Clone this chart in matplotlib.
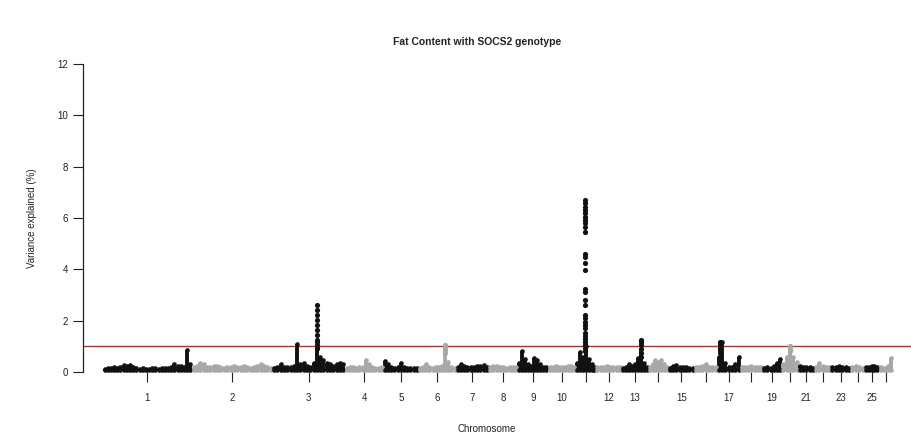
import matplotlib
matplotlib.use("Agg")
import matplotlib.pyplot as plt
import numpy as np

# Chromosome lengths (Mb)
chrom_len = [275, 249, 224, 119, 108, 117, 100, 90, 94, 86, 62, 79, 83,
             62, 80, 71, 72, 68, 60, 51, 50, 50, 62, 42, 45, 44]
chrom_labels = ["1", "2", "3", "4", "5", "6", "7", "8", "9", "10", "", "12", "13",
                "", "15", "", "17", "", "19", "", "21", "", "23", "", "25", ""]

# Variance explained (%) profile along each chromosome (evenly spaced SNP windows)
chr_profiles = [
    [0.12, 0.14, 0.15, 0.18, 0.15, 0.2, 0.27, 0.22, 0.28, 0.18, 0.15, 0.13, 0.14, 0.12,
     0.13, 0.15, 0.14, 0.13, 0.16, 0.15, 0.14, 0.18, 0.3, 0.22, 0.25, 0.2, 0.86, 0.3],
    [0.2, 0.25, 0.35, 0.3, 0.2, 0.18, 0.22, 0.25, 0.2, 0.15, 0.18, 0.2, 0.22, 0.18,
     0.2, 0.25, 0.2, 0.15, 0.18, 0.22, 0.3, 0.25, 0.2, 0.15],
    [0.15, 0.18, 0.3, 0.2, 0.18, 0.2, 0.25, 1.09, 0.3, 0.35, 0.25, 0.2, 0.35, 0.9,
     0.6, 0.45, 0.35, 0.3, 0.25, 0.3, 0.35, 0.3],
    [0.15, 0.2, 0.18, 0.15, 0.2, 0.18, 0.45, 0.3, 0.2, 0.15, 0.15, 0.18],
    [0.43, 0.3, 0.18, 0.15, 0.2, 0.35, 0.2, 0.15, 0.14, 0.15, 0.14],
    [0.15, 0.18, 0.3, 0.2, 0.15, 0.18, 0.2, 0.25, 1.05, 0.4, 0.2, 0.15],
    [0.2, 0.32, 0.25, 0.2, 0.18, 0.2, 0.22, 0.25, 0.28, 0.2],
    [0.2, 0.22, 0.25, 0.2, 0.18, 0.15, 0.2, 0.18, 0.2],
    [0.35, 0.82, 0.5, 0.3, 0.25, 0.55, 0.45, 0.3, 0.2, 0.18],
    [0.2, 0.18, 0.22, 0.2, 0.18, 0.2, 0.22, 0.25, 0.2],
    [0.35, 0.78, 0.6, 1.0, 0.5, 0.3, 0.2],
    [0.2, 0.18, 0.2, 0.22, 0.2, 0.18, 0.2, 0.18],
    [0.15, 0.2, 0.3, 0.25, 0.3, 0.55, 0.9, 0.35, 0.2],
    [0.2, 0.3, 0.45, 0.4, 0.45, 0.3, 0.2],
    [0.15, 0.25, 0.27, 0.2, 0.2, 0.18, 0.15, 0.15],
    [0.2, 0.2, 0.25, 0.3, 0.2, 0.18, 0.2],
    [0.6, 1.15, 0.35, 0.2, 0.2, 0.3, 0.6],
    [0.2, 0.18, 0.2, 0.22, 0.2, 0.18, 0.2],
    [0.15, 0.18, 0.15, 0.25, 0.35, 0.5],
    [0.3, 0.6, 1.0, 0.6, 0.4],
    [0.25, 0.2, 0.2, 0.18, 0.15],
    [0.2, 0.35, 0.25, 0.2, 0.18],
    [0.18, 0.2, 0.22, 0.2, 0.18, 0.15],
    [0.2, 0.25, 0.2, 0.15],
    [0.18, 0.2, 0.25, 0.22, 0.2],
    [0.2, 0.15, 0.25, 0.55],
]

# Individual significant SNPs in peaks: (chromosome, position fraction, values)
peak_chrom = [3, 11, 13, 17, 6, 20]
peak_frac = [0.61, 0.45, 0.72, 0.12, 0.71, 0.5]
peak_values = [
    [2.61, 2.42, 2.22, 2.03, 1.83, 1.64, 1.44, 1.25, 1.15, 1.05, 0.95],
    [6.70, 6.58, 6.43, 6.31, 6.19, 6.04, 5.92, 5.80, 5.65, 5.45, 4.60, 4.48, 4.25, 3.97,
     3.23, 3.12, 2.80, 2.61, 2.22, 2.10, 1.95, 1.83, 1.71, 1.52, 1.40, 1.29, 1.17, 1.05,
     0.93, 0.82],
    [1.25, 1.15, 1.05, 0.9, 0.75, 0.6],
    [1.15, 1.05, 0.95, 0.85, 0.75],
    [1.05, 0.95, 0.85, 0.75],
    [1.0, 0.9, 0.8],
]

threshold = 1.0

black = "#111111"
grey = "#a8a8a8"

plt.rcParams['font.family'] = ['Liberation Sans', 'DejaVu Sans']

fig = plt.figure(figsize=(9.12, 4.38), dpi=100)
ax = fig.add_axes([83 / 912, 66 / 438, 829 / 912, 308 / 438])

starts = np.concatenate([[0], np.cumsum(chrom_len)[:-1]])
centers = starts + np.array(chrom_len) / 2.0

for i, prof in enumerate(chr_profiles):
    n = len(prof)
    pos = starts[i] + (np.arange(n) + 0.5) / n * chrom_len[i]
    col = black if i % 2 == 0 else grey
    ax.vlines(pos, 0.04, prof, colors=col, linewidth=2.8, clip_on=False, zorder=2)
    ax.scatter(pos, prof, s=11, color=col, linewidths=0, clip_on=False, zorder=3)
    ax.scatter(pos, np.full(n, 0.06), s=11, color=col, linewidths=0, clip_on=False, zorder=3)

for c, f, vals in zip(peak_chrom, peak_frac, peak_values):
    idx = c - 1
    x = starts[idx] + f * chrom_len[idx]
    col = black if idx % 2 == 0 else grey
    ax.scatter(np.full(len(vals), x), vals, s=14, color=col, linewidths=0,
               clip_on=False, zorder=4)

ax.axhline(threshold, color="#9c3a32", linewidth=1.0, zorder=1)

ax.set_xlim(-61.8, 2501.5)
ax.set_ylim(0, 12)

for s in ["top", "right", "bottom"]:
    ax.spines[s].set_visible(False)
ax.spines["left"].set_bounds(0, 12)
ax.spines["left"].set_linewidth(0.9)
ax.spines["left"].set_color("#222222")

ax.set_yticks(np.arange(0, 13, 2))
ax.set_yticklabels([str(v) for v in range(0, 13, 2)])
ax.set_xticks(centers)
ax.set_xticklabels(chrom_labels)
ax.tick_params(axis="y", length=7, width=0.8, pad=4, labelsize=7, colors="#222222")
ax.tick_params(axis="x", length=7, width=0.8, pad=8, labelsize=7, colors="#222222")

fig.text(477 / 912, 1 - 42 / 438, "Fat Content with SOCS2 genotype",
         ha="center", va="center", fontsize=7.5, fontweight="bold", color="#222222")
fig.text(487 / 912, 1 - 429 / 438, "Chromosome", ha="center", va="center",
         fontsize=7, color="#222222")
fig.text(32 / 912, 1 - 218 / 438, "Variance explained (%)", ha="center", va="center",
         rotation=90, fontsize=7, color="#222222")

fig.savefig("out.png", dpi=100)
